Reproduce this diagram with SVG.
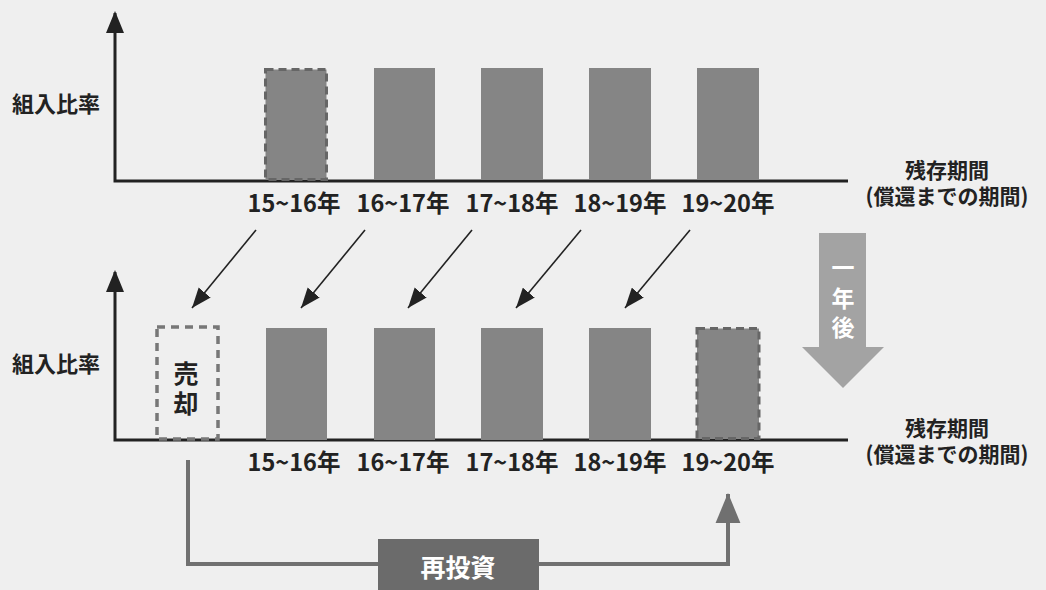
<svg xmlns="http://www.w3.org/2000/svg" width="1046" height="590" viewBox="0 0 1046 590">
<style>
.t{font-family:"Noto Sans CJK JP","Noto Sans",sans-serif;font-weight:bold;fill:#222}
.yl{font-size:22px}
.rl{font-size:21px;text-anchor:middle}
.xl{font-size:23.5px;text-anchor:middle}
.w{fill:#fff;text-anchor:middle}
.bar{fill:#858585}
.dbar{fill:#858585;stroke:#666;stroke-width:3;stroke-dasharray:8 5}
.dbox{fill:none;stroke:#777;stroke-width:3.5;stroke-dasharray:8 6}
.axis{stroke:#222;stroke-width:3;fill:none}
.diag{stroke:#222;stroke-width:1.6;fill:none}
.conn{stroke:#707070;stroke-width:4;fill:none}
</style>
<defs>
<marker id="ah" markerUnits="userSpaceOnUse" markerWidth="22" markerHeight="20" refX="20" refY="9" orient="auto-start-reverse" viewBox="0 0 22 18">
<path d="M0,0 L22,9 L0,18 Z" fill="#222"/>
</marker>
<marker id="dh" markerUnits="userSpaceOnUse" markerWidth="20" markerHeight="16" refX="18" refY="7" orient="auto" viewBox="0 0 18 14">
<path d="M0,0 L18,7 L0,14 Z" fill="#222"/>
</marker>
<marker id="ch" markerUnits="userSpaceOnUse" markerWidth="30" markerHeight="26" refX="28" refY="12" orient="auto" viewBox="0 0 29 24">
<path d="M0,0 L29,12 L0,24 Z" fill="#707070"/>
</marker>
</defs>
<rect width="1046" height="590" fill="#efefef"/>

<g id="top-chart">
<path class="axis" d="M115,13 L115,181 L848,181" marker-start="url(#ah)"/>
<text class="t yl" x="12" y="112">組入比率</text>
<text class="t rl"><tspan x="947" y="178">残存期間</tspan><tspan x="947" y="204">(償還までの期間)</tspan></text>
</g>
<g id="top-bar-1"><rect class="dbar" x="265.5" y="69.5" width="61" height="110"/><text class="t xl" x="294" y="212">15~16年</text></g>
<g id="top-bar-2"><rect class="bar" x="374" y="68" width="61" height="112"/><text class="t xl" x="403" y="212">16~17年</text></g>
<g id="top-bar-3"><rect class="bar" x="481" y="68" width="62" height="112"/><text class="t xl" x="512" y="212">17~18年</text></g>
<g id="top-bar-4"><rect class="bar" x="589" y="68" width="62" height="112"/><text class="t xl" x="620" y="212">18~19年</text></g>
<g id="top-bar-5"><rect class="bar" x="697" y="68" width="62" height="112"/><text class="t xl" x="728" y="212">19~20年</text></g>

<g id="bottom-chart">
<path class="axis" d="M115,272 L115,440 L848,440" marker-start="url(#ah)"/>
<text class="t yl" x="12" y="372">組入比率</text>
<text class="t rl"><tspan x="947" y="436">残存期間</tspan><tspan x="947" y="462">(償還までの期間)</tspan></text>
</g>
<g id="sold"><rect class="dbox" x="157" y="327" width="61" height="112"/><text class="t" font-size="25" text-anchor="middle"><tspan x="186" y="383">売</tspan><tspan x="186" y="413">却</tspan></text></g>
<g id="bottom-bar-1"><rect class="bar" x="266" y="328" width="61" height="112"/><text class="t xl" x="294" y="471">15~16年</text></g>
<g id="bottom-bar-2"><rect class="bar" x="374" y="328" width="61" height="112"/><text class="t xl" x="403" y="471">16~17年</text></g>
<g id="bottom-bar-3"><rect class="bar" x="481" y="328" width="62" height="112"/><text class="t xl" x="512" y="471">17~18年</text></g>
<g id="bottom-bar-4"><rect class="bar" x="589" y="328" width="62" height="112"/><text class="t xl" x="620" y="471">18~19年</text></g>
<g id="bottom-bar-5"><rect class="dbar" x="697" y="328.5" width="62" height="110"/><text class="t xl" x="728" y="471">19~20年</text></g>

<g id="one-year-later">
<path d="M819,233 L866,233 L866,347 L884,347 L843,388 L802,347 L819,347 Z" fill="#a3a3a3"/>
<text class="t w" font-size="23"><tspan x="843" y="276">一</tspan><tspan x="843" y="307">年</tspan><tspan x="843" y="336">後</tspan></text>
</g>

<g id="reinvest"><rect x="378" y="539" width="161" height="51" fill="#6b6b6b"/><text class="t w" x="458" y="577" font-size="25">再投資</text></g>

<g id="connectors">
<line class="diag" x1="256" y1="230" x2="192" y2="308" marker-end="url(#dh)"/>
<line class="diag" x1="365" y1="230" x2="301" y2="308" marker-end="url(#dh)"/>
<line class="diag" x1="472" y1="230" x2="408" y2="308" marker-end="url(#dh)"/>
<line class="diag" x1="581" y1="230" x2="516" y2="308" marker-end="url(#dh)"/>
<line class="diag" x1="690" y1="230" x2="625" y2="308" marker-end="url(#dh)"/>
<path class="conn" d="M188,460 L188,564 L378,564 M539,564 L728,564 L728,494" marker-end="url(#ch)"/>
</g>
</svg>
